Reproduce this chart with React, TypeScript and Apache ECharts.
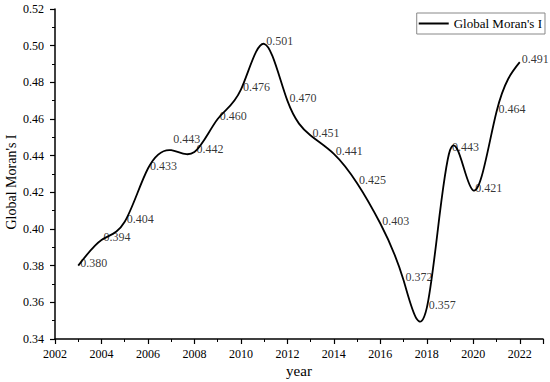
import React, { useEffect, useRef } from "react";
import * as echarts from "echarts";

const years = [2003, 2004, 2005, 2006, 2007, 2008, 2009, 2010, 2011, 2012, 2013, 2014, 2015, 2016, 2017, 2018, 2019, 2020, 2021, 2022];
const moransI = [0.380, 0.394, 0.404, 0.433, 0.443, 0.442, 0.460, 0.476, 0.501, 0.470, 0.451, 0.441, 0.425, 0.403, 0.372, 0.357, 0.443, 0.421, 0.464, 0.491];
const seriesName = "Global Moran's I";
const xName = "year";
const yName = "Global Moran's I";

const FONT = "Liberation Serif";

// slopes of a natural cubic spline through the data (used to draw the curve as bezier segments)
function splineSlopes(xs: number[], ys: number[]): number[] {
  const n = xs.length;
  const h: number[] = [];
  for (let i = 0; i < n - 1; i++) h.push(xs[i + 1] - xs[i]);
  const a = new Array(n).fill(0), b = new Array(n).fill(0), c = new Array(n).fill(0), d = new Array(n).fill(0);
  b[0] = 1; b[n - 1] = 1;
  for (let i = 1; i < n - 1; i++) {
    a[i] = h[i - 1];
    b[i] = 2 * (h[i - 1] + h[i]);
    c[i] = h[i];
    d[i] = 6 * ((ys[i + 1] - ys[i]) / h[i] - (ys[i] - ys[i - 1]) / h[i - 1]);
  }
  for (let i = 1; i < n; i++) {
    const w = a[i] / b[i - 1];
    b[i] -= w * c[i - 1];
    d[i] -= w * d[i - 1];
  }
  const M = new Array(n).fill(0);
  M[n - 1] = d[n - 1] / b[n - 1];
  for (let i = n - 2; i >= 0; i--) M[i] = (d[i] - c[i] * M[i + 1]) / b[i];
  const m: number[] = [];
  for (let i = 0; i < n - 1; i++) m.push((ys[i + 1] - ys[i]) / h[i] - (h[i] * (2 * M[i] + M[i + 1])) / 6);
  m.push((ys[n - 1] - ys[n - 2]) / h[n - 2] + (h[n - 2] * (M[n - 2] + 2 * M[n - 1])) / 6);
  return m;
}

export default function App() {
  const ref = useRef<HTMLDivElement>(null);
  useEffect(() => {
    if (!ref.current) return;
    const chart = echarts.init(ref.current, null, { renderer: "svg" });
    const slopes = splineSlopes(years, moransI);
    const labelData = years.map((y, i) => {
      const item: any = { value: [y, moransI[i]] };
      if (y === 2007) item.label = { offset: [0, -11] };
      return item;
    });
    chart.setOption({
      animation: false,
      backgroundColor: "#fff",
      textStyle: { fontFamily: FONT, color: "#000" },
      grid: { left: 55, top: 9, width: 488, height: 330, containLabel: false, outerBoundsMode: "none" },
      legend: {
        right: 5,
        top: 13,
        padding: [4, 3, 4, 2],
        borderColor: "#888",
        borderWidth: 1,
        icon: "rect",
        itemWidth: 30,
        itemHeight: 2,
        itemStyle: { color: "#000" },
        textStyle: { fontFamily: FONT, fontSize: 13, color: "#000" },
        data: [seriesName],
      },
      xAxis: {
        type: "value",
        min: 2002,
        max: 2023,
        interval: 2,
        name: xName,
        nameLocation: "middle",
        nameGap: 24,
        nameMoveOverlap: false,
        nameTextStyle: { fontFamily: FONT, fontSize: 15, color: "#000" },
        axisLine: { lineStyle: { color: "#000", width: 1.5 } },
        axisTick: { length: 5, lineStyle: { color: "#000", width: 1.2 } },
        minorTick: { show: true, splitNumber: 2, length: 3, lineStyle: { color: "#000", width: 1 } },
        splitLine: { show: false },
        axisLabel: {
          fontFamily: FONT,
          fontSize: 12,
          color: "#000",
          margin: 9,
          formatter: (v: number) => (v % 2 === 0 ? String(v) : ""),
        },
      },
      yAxis: {
        type: "value",
        min: 0.34,
        max: 0.52,
        interval: 0.02,
        name: yName,
        nameLocation: "middle",
        nameGap: 37,
        nameMoveOverlap: false,
        nameTextStyle: { fontFamily: FONT, fontSize: 14, color: "#000", padding: [0, 16, 0, 0] },
        axisLine: { show: true, lineStyle: { color: "#000", width: 1.5 } },
        axisTick: { show: true, length: 5, lineStyle: { color: "#000", width: 1.2 } },
        minorTick: { show: true, splitNumber: 2, length: 3, lineStyle: { color: "#000", width: 1 } },
        splitLine: { show: false },
        axisLabel: {
          fontFamily: FONT,
          fontSize: 12,
          color: "#000",
          margin: 11,
          formatter: (v: number) => v.toFixed(2),
        },
      },
      series: [
        {
          name: seriesName,
          type: "custom",
          coordinateSystem: "cartesian2d",
          clip: false,
          silent: true,
          itemStyle: { color: "#000" },
          data: [[years[0], moransI[0]]],
          renderItem: (params: any, api: any) => {
            let d = "";
            const p0 = api.coord([years[0], moransI[0]]);
            d += `M${p0[0]},${p0[1]}`;
            for (let i = 0; i < years.length - 1; i++) {
              const h = years[i + 1] - years[i];
              const c1 = api.coord([years[i] + h / 3, moransI[i] + (h / 3) * slopes[i]]);
              const c2 = api.coord([years[i + 1] - h / 3, moransI[i + 1] - (h / 3) * slopes[i + 1]]);
              const p = api.coord([years[i + 1], moransI[i + 1]]);
              d += `C${c1[0]},${c1[1]} ${c2[0]},${c2[1]} ${p[0]},${p[1]}`;
            }
            return {
              type: "path",
              shape: { pathData: d },
              style: { stroke: "#000", lineWidth: 1.8, fill: "none" },
            };
          },
        },
        {
          name: "values",
          type: "scatter",
          data: labelData,
          symbolSize: 0.01,
          itemStyle: { color: "#000" },
          label: {
            show: true,
            position: "right",
            distance: 2,
            offset: [0, -3],
            fontFamily: FONT,
            fontSize: 12,
            color: "#000",
            formatter: (p: any) => p.value[1].toFixed(3),
          },
        },
      ],
    });
    return () => chart.dispose();
  }, []);
  return <div ref={ref} style={{ position: "fixed", left: 0, top: 0, width: 550, height: 382 }} />;
}
